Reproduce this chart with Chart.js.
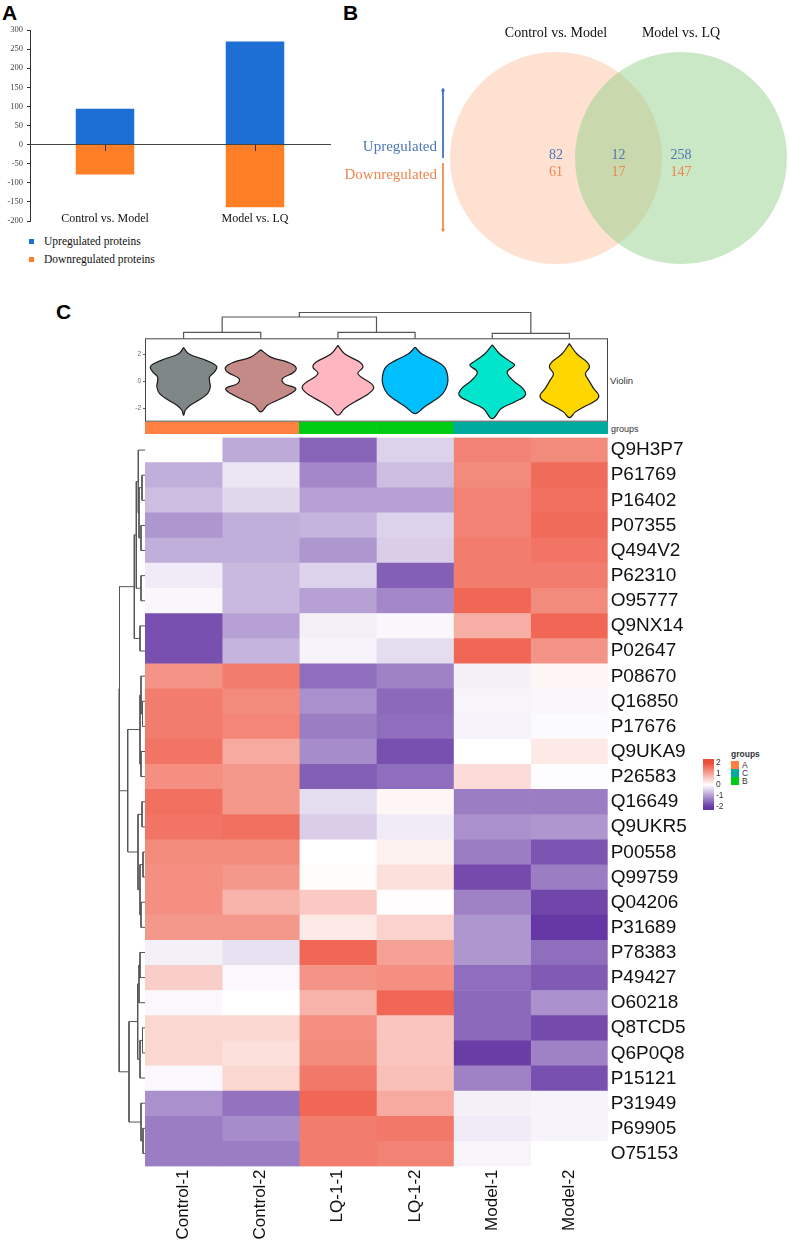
<!DOCTYPE html>
<html>
<head>
<meta charset="utf-8">
<script src="https://cdn.jsdelivr.net/npm/chart.js@4.4.1/dist/chart.umd.min.js"></script>
<style>
  html, body { margin: 0; padding: 0; background: #fff; }
  body { position: relative; width: 789px; height: 1247px; overflow: hidden; font-family: "Liberation Sans", Arial, sans-serif; }
  .box { position: absolute; }
  .box canvas { display: block; }
  .lbl { position: absolute; white-space: nowrap; line-height: 1; color: #111; }
  .serif { font-family: "Liberation Serif", "Times New Roman", serif; }
  .panel { position: absolute; font: bold 21px "Liberation Sans", Arial, sans-serif; line-height: 1; }
  .sq { position: absolute; }
</style>
</head>
<body>

<div class="panel" style="left:2px; top:2px">A</div>
<div class="panel" style="left:343px; top:2px">B</div>
<div class="panel" style="left:56px; top:301px">C</div>

<!-- panel A legend -->
<div class="sq" style="left:29px; top:239px; width:5px; height:5px; background:#1E6FD3"></div>
<div class="lbl serif" style="left:44px; top:236px; font-size:11.5px">Upregulated proteins</div>
<div class="sq" style="left:29px; top:257px; width:5px; height:5px; background:#FF7F27"></div>
<div class="lbl serif" style="left:44px; top:254px; font-size:11.5px">Downregulated proteins</div>

<!-- panel C side labels -->
<div class="lbl" style="left:610px; top:376px; font-size:9.5px; color:#333">Violin</div>
<div class="lbl" style="left:611px; top:425px; font-size:9px; color:#333">groups</div>

<!-- heatmap legend: groups -->
<div class="lbl" style="left:731px; top:750px; font-size:8.5px; font-weight:bold; color:#333">groups</div>
<div class="sq" style="left:731px; top:761px; width:8px; height:8px; background:#FF8040"></div>
<div class="lbl" style="left:742px; top:761px; font-size:8.5px; color:#333">A</div>
<div class="sq" style="left:731px; top:769px; width:8px; height:8px; background:#00AA9F"></div>
<div class="lbl" style="left:742px; top:769px; font-size:8.5px; color:#333">C</div>
<div class="sq" style="left:731px; top:777px; width:8px; height:8px; background:#00CC14"></div>
<div class="lbl" style="left:742px; top:777px; font-size:8.5px; color:#333">B</div>

<div class="box" style="left:0px; top:0px; width:345px; height:235px"><canvas id="barA"></canvas></div>
<div class="box" style="left:330px; top:0px; width:459px; height:270px"><canvas id="venn"></canvas></div>
<div class="box" style="left:145px; top:305px; width:463px; height:40px"><canvas id="colTree"></canvas></div>
<div class="box" style="left:120px; top:330px; width:493px; height:100px"><canvas id="violin"></canvas></div>
<div class="box" style="left:145px; top:421px; width:463px; height:13px"><canvas id="groupBar"></canvas></div>
<div class="box" style="left:140px; top:421px; width:563px; height:826px"><canvas id="heat"></canvas></div>
<div class="box" style="left:110px; top:430px; width:40px; height:745px"><canvas id="rowTree"></canvas></div>
<div class="box" style="left:695px; top:750px; width:40px; height:70px"><canvas id="colorBar"></canvas></div>

<script>
// ---------- data ----------
// panel A
const comparisons = ['Control vs. Model', 'Model vs. LQ'];
const upregulated = [94, 270];
const downregulated = [-78, -164];

// panel B (left only, shared, right only)
const vennSets = ['Control vs. Model', 'Model vs. LQ'];
const vennUp = [82, 12, 258];
const vennDown = [61, 17, 147];

// panel C
const samples = ['Control-1', 'Control-2', 'LQ-1-1', 'LQ-1-2', 'Model-1', 'Model-2'];
const sampleGroups = ['A', 'A', 'B', 'B', 'C', 'C'];
const proteins = ['Q9H3P7', 'P61769', 'P16402', 'P07355', 'Q494V2', 'P62310', 'O95777', 'Q9NX14', 'P02647',
  'P08670', 'Q16850', 'P17676', 'Q9UKA9', 'P26583', 'Q16649', 'Q9UKR5', 'P00558', 'Q99759', 'Q04206',
  'P31689', 'P78383', 'P49427', 'O60218', 'Q8TCD5', 'Q6P0Q8', 'P15121', 'P31949', 'P69905', 'O75153'];

// z-scores, one array per sample column (rows in protein order)
const zControl1 = [0.0, -0.8, -0.65, -1.05, -0.8, -0.2, -0.08, -1.75, -1.75, 1.2, 1.45, 1.45, 1.55, 1.25,
  1.6, 1.55, 1.3, 1.25, 1.25, 1.15, -0.15, 0.55, -0.07, 0.45, 0.45, -0.07, -1.1, -1.3, -1.3];
const zControl2 = [-0.85, -0.25, -0.4, -0.8, -0.8, -0.7, -0.7, -0.95, -0.75, 1.45, 1.3, 1.35, 0.95, 1.15,
  1.15, 1.6, 1.3, 1.15, 0.85, 1.15, -0.3, -0.07, 0.0, 0.45, 0.35, 0.45, -1.4, -1.15, -1.3];
const zLQ1 = [-1.55, -1.2, -0.95, -0.75, -1.05, -0.45, -0.95, -0.15, -0.12, -1.45, -1.1, -1.3, -1.15, -1.6,
  -0.35, -0.5, 0.0, 0.03, 0.6, 0.25, 1.7, 1.2, 0.85, 1.25, 1.3, 1.5, 1.7, 1.45, 1.45];
const zLQ2 = [-0.45, -0.65, -0.95, -0.45, -0.5, -1.6, -1.2, -0.08, -0.35, -1.25, -1.5, -1.45, -1.75, -1.45,
  0.1, -0.2, 0.15, 0.35, 0.02, 0.5, 1.05, 1.25, 1.7, 0.65, 0.65, 0.7, 0.95, 1.5, 1.4];
const zModel1 = [1.4, 1.3, 1.4, 1.4, 1.45, 1.45, 1.7, 0.9, 1.7, -0.15, -0.1, -0.12, 0.0, 0.4,
  -1.3, -1.1, -1.3, -1.8, -1.25, -1.05, -1.05, -1.45, -1.5, -1.5, -1.95, -1.25, -0.15, -0.2, -0.1];
const zModel2 = [1.3, 1.65, 1.6, 1.65, 1.55, 1.45, 1.3, 1.7, 1.2, 0.1, -0.08, -0.05, 0.25, -0.03,
  -1.3, -1.05, -1.7, -1.3, -1.85, -2.1, -1.45, -1.65, -1.1, -1.8, -1.25, -1.75, -0.12, -0.12, 0.0];
const zColumns = [zControl1, zControl2, zLQ1, zLQ2, zModel1, zModel2];

// hclust-style merges (negative = leaf, positive = earlier merge)
const colMerge = [[-1, -2], [-3, -4], [-5, -6], [1, 2], [4, 3]];
const colHeight = [6, 6, 5, 21.3, 25.8];
const rowMerge = [[-2, -3], [-4, -5], [1, 2], [-1, 3], [-6, -7], [4, 5], [-8, -9], [6, 7],
  [-11, -12], [-10, 9], [-13, -14], [10, 11], [-15, -16], [-17, -18], [-19, -20], [14, 15], [13, 16],
  [12, 17], [8, 18], [-21, -22], [20, -23], [-24, -25], [22, -26], [21, 23], [-28, -29], [-27, 25],
  [24, 26], [19, 27]];
const rowHeight = [3, 4, 6, 6.7, 4, 8.7, 5, 10.7, 2.5, 4, 4, 5, 3, 2, 4, 5, 7, 17.3, 25.5,
  5, 6, 2.5, 5, 7.3, 2, 4, 16, 25.8];

// violin outlines: [value, half width in column units], top to bottom
const violinGray = [[2.5, 0], [2.05, .065], [1.68, .238], [1.31, .389], [1.06, .432], [0.69, .398], [0.32, .337],
  [0, .337], [-0.42, .346], [-0.91, .311], [-1.41, .194], [-1.78, .086], [-2.15, .022], [-2.52, 0]];
const violinRosy = [[2.35, 0], [1.8, .13], [1.43, .346], [1.06, .454], [0.69, .432], [0.2, .281], [-0.17, .302],
  [-0.54, .454], [-0.91, .389], [-1.41, .216], [-1.78, .086], [-2.27, 0]];
const violinPink = [[2.67, 0], [2.05, .086], [1.43, .281], [1.06, .324], [0.57, .259], [-0.17, .432], [-0.54, .462],
  [-1.04, .367], [-1.53, .216], [-2.02, .086], [-2.52, 0]];
const violinBlue = [[2.54, 0], [2.05, .086], [1.56, .251], [1.06, .38], [0.32, .424], [-0.3, .415], [-0.91, .359],
  [-1.41, .251], [-1.9, .121], [-2.4, 0]];
const violinTurq = [[2.72, 0], [2.05, .095], [1.43, .246], [1.19, .29], [0.69, .194], [0.07, .268], [-0.54, .398],
  [-1.04, .428], [-1.53, .29], [-2.02, .117], [-2.77, 0]];
const violinGold = [[2.8, 0], [2.05, .095], [1.43, .229], [1.06, .259], [0.57, .207], [0.07, .251], [-0.54, .315],
  [-1.04, .38], [-1.41, .346], [-1.9, .186], [-2.27, .078], [-2.7, 0]];
const violinHi = [1.31, 1.31, 1.56, 1.8, 1.43, 1.56];
const violinQ3 = [0.94, 0.86, 0.94, 0.7, 0.94, 0.94];
const violinMedian = [0, 0, -0.17, -0.05, -0.17, -0.12];
const violinQ1 = [-0.54, -0.54, -0.72, -0.6, -0.54, -0.67];
const violinLo = [-1.33, -1.04, -1.28, -1.4, -1.41, -1.41];

const colorbarTicks = [-2, -1, 0, 1, 2];

// ---------- styles ----------
const SERIF = '"Liberation Serif", "Times New Roman", serif';
const SANS = '"Liberation Sans", Arial, sans-serif';
Chart.defaults.font.family = SANS;
Chart.defaults.animation = false;

const BLUE = '#1E6FD3', ORANGE = '#FF7F27';
const groupColor = { A: '#FF8040', B: '#00CC14', C: '#00AA9F' };
const violinColors = ['#7F8786', '#C48A87', '#FFB6C1', '#00BFFF', '#00E5CC', '#FFD700'];
const TREE = '#555';

const purpleEnd = [101, 55, 164], redEnd = [237, 76, 55];
function colorFor(z) {
  const t = Math.min(Math.abs(z) / 2, 1);
  const e = z < 0 ? purpleEnd : redEnd;
  const c = e.map(v => Math.round(255 - t * (255 - v)));
  return `rgb(${c[0]},${c[1]},${c[2]})`;
}

const base = {
  responsive: true, maintainAspectRatio: false, animation: false, events: [],
  plugins: { legend: { display: false }, tooltip: { enabled: false } }
};

// dendrogram path from a merge table
function treePoints(merge, heights) {
  const pos = [], ht = [], pts = [];
  const node = k => k < 0 ? { p: -k - 1, h: 0 } : { p: pos[k - 1], h: ht[k - 1] };
  merge.forEach(([a, b], i) => {
    const A = node(a), B = node(b), h = heights[i];
    pts.push({ p: A.p, h: A.h }, { p: A.p, h }, { p: B.p, h }, { p: B.p, h: B.h }, null);
    pos.push((A.p + B.p) / 2);
    ht.push(h);
  });
  return pts;
}

// ---------- panel A ----------
new Chart(document.getElementById('barA'), {
  type: 'bar',
  data: {
    labels: comparisons,
    datasets: [
      { label: 'Upregulated proteins', data: upregulated, backgroundColor: BLUE },
      { label: 'Downregulated proteins', data: downregulated, backgroundColor: ORANGE }
    ]
  },
  options: {
    ...base,
    layout: { autoPadding: false, padding: { left: 0, top: 30, right: 15, bottom: 14 } },
    datasets: { bar: { barPercentage: 0.39, categoryPercentage: 1 } },
    scales: {
      x: {
        stacked: true, position: { y: 0 },
        grid: { display: true, drawOnChartArea: false, offset: false, tickLength: 6, color: '#333', z: 1 },
        border: { color: '#444', z: 1 },
        ticks: { display: false }
      },
      xb: {
        type: 'category', position: { y: -176 },
        grid: { display: false, drawTicks: false }, border: { display: false },
        ticks: { padding: 0, color: '#111', font: { family: SERIF, size: 12 } }
      },
      y: {
        stacked: true, min: -200, max: 300,
        ticks: { stepSize: 50, color: '#444', padding: 4, font: { family: SERIF, size: 8.5 } },
        grid: { drawOnChartArea: false, tickLength: 3, color: '#333' },
        border: { color: '#333' },
        afterFit: s => { s.width = 30; }
      }
    }
  }
});

// ---------- panel B ----------
const ARROW_X = -0.904;
const vennText = {
  id: 'vennText',
  afterDatasetsDraw(chart) {
    const { ctx, scales: { x, y } } = chart;
    ctx.save();
    ctx.textBaseline = 'middle';
    ctx.textAlign = 'center';
    ctx.font = '14px ' + SERIF;
    ctx.fillStyle = '#111';
    vennSets.forEach((s, i) => ctx.fillText(s, x.getPixelForValue(i), y.getPixelForValue(125)));
    ctx.fillStyle = '#4D78B5';
    vennUp.forEach((v, i) => ctx.fillText(String(v), x.getPixelForValue(i * 0.5), y.getPixelForValue(3)));
    ctx.fillStyle = '#EC8650';
    vennDown.forEach((v, i) => ctx.fillText(String(v), x.getPixelForValue(i * 0.5), y.getPixelForValue(-14.3)));
    ctx.textAlign = 'right';
    ctx.font = '15px ' + SERIF;
    const tx = x.getPixelForValue(ARROW_X) - 6;
    ctx.fillStyle = '#4D78B5';
    ctx.fillText('Upregulated', tx, y.getPixelForValue(11));
    ctx.fillStyle = '#EC8650';
    ctx.fillText('Downregulated', tx, y.getPixelForValue(-17));
    ctx.restore();
  }
};

new Chart(document.getElementById('venn'), {
  type: 'bubble',
  data: {
    datasets: [
      {
        data: vennSets.map((s, i) => ({ x: i, y: 0 })),
        radius: 106, borderWidth: 0, clip: false,
        backgroundColor: ['rgba(253,200,170,0.55)', 'rgba(150,210,140,0.5)']
      },
      {
        type: 'line', data: [{ x: ARROW_X, y: 68 }, { x: ARROW_X, y: 0 }],
        borderColor: '#3D72B8', borderWidth: 1, backgroundColor: '#3D72B8',
        pointStyle: 'triangle', pointRadius: [2.5, 0], pointBorderWidth: 0, clip: false
      },
      {
        type: 'line', data: [{ x: ARROW_X, y: -5 }, { x: ARROW_X, y: -72 }],
        borderColor: '#F08A4B', borderWidth: 1, backgroundColor: '#F08A4B',
        pointStyle: 'triangle', pointRotation: 180, pointRadius: [0, 2.5], pointBorderWidth: 0, clip: false
      }
    ]
  },
  options: {
    ...base,
    layout: { autoPadding: false, padding: 0 },
    scales: {
      x: { type: 'linear', min: -1.808, max: 1.864, display: false },
      y: { type: 'linear', min: -112, max: 158, display: false }
    }
  },
  plugins: [vennText]
});

// ---------- panel C: column dendrogram ----------
new Chart(document.getElementById('colTree'), {
  type: 'scatter',
  data: {
    datasets: [{
      data: treePoints(colMerge, colHeight).map(q => q ? { x: q.p + 0.5, y: q.h } : { x: NaN, y: NaN }),
      showLine: true, spanGaps: false, borderColor: TREE, borderWidth: 1.2, pointRadius: 0, clip: false
    }]
  },
  options: {
    ...base,
    layout: { autoPadding: false, padding: { left: 0, right: 0, top: 7.3, bottom: 6.7 } },
    scales: {
      x: { type: 'linear', min: 0, max: samples.length, display: false },
      y: { type: 'linear', min: 0, max: 26, display: false }
    }
  }
});

// ---------- violins ----------
const violinProfiles = [violinGray, violinRosy, violinPink, violinBlue, violinTurq, violinGold];
const violinSets = [];
violinProfiles.forEach((prof, i) => {
  const c = i + 0.5;
  const right = prof.map(([v, w]) => ({ x: c + w, y: v }));
  const left = prof.slice().reverse().map(([v, w]) => ({ x: c - w, y: v }));
  violinSets.push({
    data: right.concat(left.slice(1)), showLine: true, fill: 'shape', tension: 0.4,
    backgroundColor: violinColors[i], borderColor: '#1a1a1a', borderWidth: 1.2, pointRadius: 0
  });
  violinSets.push({
    data: [{ x: c, y: violinHi[i] }, { x: c, y: violinQ3[i] }, { x: NaN, y: NaN },
      { x: c, y: violinQ1[i] }, { x: c, y: violinLo[i] }],
    showLine: true, spanGaps: false, borderColor: '#222', borderWidth: 1, pointRadius: 0
  });
});
violinSets.push({
  data: violinMedian.map((m, i) => ({ x: i + 0.5, y: m })),
  pointRadius: 1.4, backgroundColor: '#111', borderWidth: 0
});

const frame = {
  id: 'frame',
  afterDraw(chart) {
    const { ctx, chartArea: a } = chart;
    ctx.save();
    ctx.strokeStyle = '#444';
    ctx.lineWidth = 1;
    ctx.strokeRect(a.left + 0.5, a.top + 0.5, a.width - 1, a.height - 1);
    ctx.restore();
  }
};

new Chart(document.getElementById('violin'), {
  type: 'scatter',
  data: { datasets: violinSets },
  options: {
    ...base,
    layout: { autoPadding: false, padding: { left: 0, right: 5, top: 8.3, bottom: 8.3 } },
    scales: {
      x: { type: 'linear', min: 0, max: samples.length, display: false },
      y: {
        type: 'linear', min: -3.0, max: 3.2,
        afterBuildTicks: s => { s.ticks = [-2, 0, 2].map(v => ({ value: v })); },
        ticks: { color: '#666', padding: 2, font: { size: 6.5 } },
        grid: { drawOnChartArea: false, tickLength: 2, color: '#666' },
        border: { display: false },
        afterFit: s => { s.width = 25; }
      }
    }
  },
  plugins: [frame]
});

// ---------- group strip ----------
new Chart(document.getElementById('groupBar'), {
  type: 'bar',
  data: {
    labels: samples,
    datasets: [{
      data: samples.map(() => 1),
      backgroundColor: sampleGroups.map(g => groupColor[g]),
      borderWidth: 0, barPercentage: 1, categoryPercentage: 1
    }]
  },
  options: {
    ...base,
    layout: { autoPadding: false, padding: { top: 0.7, bottom: 0, left: 0, right: 0 } },
    scales: {
      x: { display: false },
      y: { display: false, min: 0, max: 1 }
    }
  }
});

// ---------- heatmap ----------
new Chart(document.getElementById('heat'), {
  type: 'bar',
  data: {
    labels: proteins,
    datasets: zColumns.map((col, i) => ({
      label: samples[i],
      data: col.map(() => 1),
      backgroundColor: col.map(colorFor),
      borderWidth: 0, barPercentage: 1, categoryPercentage: 1
    }))
  },
  options: {
    ...base,
    indexAxis: 'y',
    layout: { autoPadding: false, padding: { left: 5, right: 5.3, top: 16.5, bottom: 0.5 } },
    scales: {
      x: {
        type: 'linear', stacked: true, min: 0, max: samples.length, position: 'bottom',
        afterBuildTicks: s => { s.ticks = samples.map((_, i) => ({ value: i + 0.5 })); },
        ticks: {
          callback: (v, i) => samples[i], autoSkip: false, minRotation: 90, maxRotation: 90,
          color: '#111', padding: 3, font: { size: 17 }
        },
        grid: { display: false, drawTicks: false }, border: { display: false },
        afterFit: s => { s.height = 80; }
      },
      y: {
        stacked: true, position: 'right',
        ticks: { autoSkip: false, color: '#111', padding: 3, font: { size: 19 } },
        grid: { display: false, drawTicks: false }, border: { display: false },
        afterFit: s => { s.width = 90; }
      }
    }
  }
});

// ---------- row dendrogram ----------
new Chart(document.getElementById('rowTree'), {
  type: 'scatter',
  data: {
    datasets: [{
      data: treePoints(rowMerge, rowHeight).map(q => q ? { x: q.h, y: q.p } : { x: NaN, y: NaN }),
      showLine: true, spanGaps: false, borderColor: TREE, borderWidth: 1, pointRadius: 0, clip: false
    }]
  },
  options: {
    ...base,
    layout: { autoPadding: false, padding: { left: 7, right: 5, top: 7.5, bottom: 9 } },
    scales: {
      x: { type: 'linear', min: 0, max: 28, reverse: true, display: false },
      y: { type: 'linear', min: -0.5, max: proteins.length - 0.5, reverse: true, display: false }
    }
  }
});

// ---------- colour key ----------
const CB_MIN = -2.27, CB_MAX = 2.33;
new Chart(document.getElementById('colorBar'), {
  type: 'bar',
  data: {
    labels: [''],
    datasets: [{
      data: [[CB_MIN, CB_MAX]],
      backgroundColor: c => {
        const chart = c.chart;
        if (!chart.chartArea) return null;
        const ys = chart.scales.y;
        const g = chart.ctx.createLinearGradient(0, ys.getPixelForValue(2), 0, ys.getPixelForValue(-2));
        colorbarTicks.slice().reverse().forEach((z, k, arr) => g.addColorStop(k / (arr.length - 1), colorFor(z)));
        return g;
      },
      borderWidth: 0, barPercentage: 1, categoryPercentage: 1
    }]
  },
  options: {
    ...base,
    layout: { autoPadding: false, padding: { left: 8, right: 4, top: 9, bottom: 10 } },
    scales: {
      x: { display: false },
      y: {
        min: CB_MIN, max: CB_MAX, position: 'right',
        afterBuildTicks: s => { s.ticks = colorbarTicks.map(v => ({ value: v })); },
        ticks: { color: '#333', padding: 2, autoSkip: false, font: { size: 8.5, lineHeight: 1 } },
        grid: { display: false, drawTicks: false }, border: { display: false },
        afterFit: s => { s.width = 17; }
      }
    }
  }
});
</script>
</body>
</html>
